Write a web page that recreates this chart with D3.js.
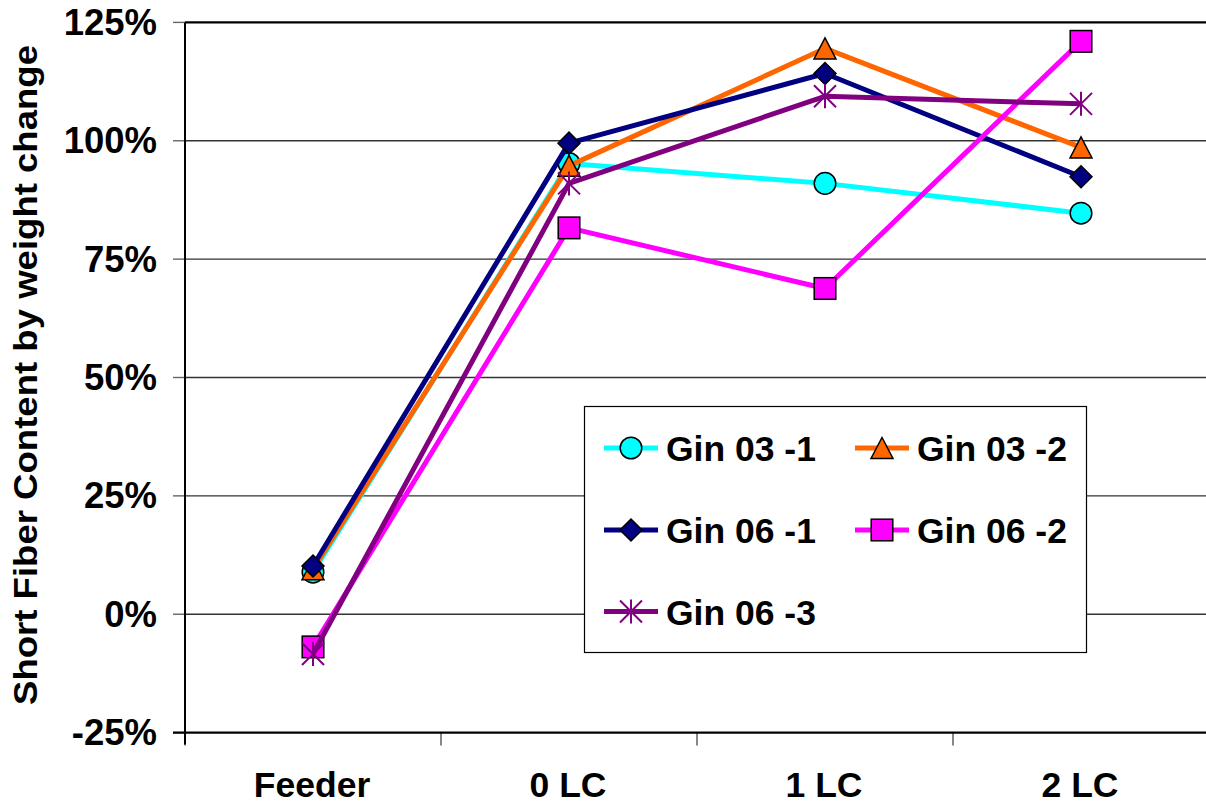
<!DOCTYPE html>
<html>
<head>
<meta charset="utf-8">
<script src="https://cdn.jsdelivr.net/npm/d3@7"></script>
<style>
  html, body { margin: 0; padding: 0; background: #fff; }
  svg { display: block; font-family: Arial, "Liberation Sans", sans-serif; font-weight: bold; }
</style>
</head>
<body>
<svg id="chart" width="1206" height="805"></svg>
<script>
const categories = ["Feeder", "0 LC", "1 LC", "2 LC"];
const seriesNames = ["Gin 03 -1", "Gin 03 -2", "Gin 06 -1", "Gin 06 -2", "Gin 06 -3"];
const gin03_1 = [8.9, 95.2, 91.0, 84.7];
const gin03_2 = [9.5, 94.7, 119.5, 98.6];
const gin06_1 = [10.2, 99.5, 114.2, 92.4];
const gin06_2 = [-6.9, 81.6, 68.8, 121.0];
const gin06_3 = [-8.4, 91.0, 109.4, 107.8];
const yTicks = [-25, 0, 25, 50, 75, 100, 125];
const yTitle = "Short Fiber Content by weight change";

const seriesValues = [gin03_1, gin03_2, gin06_1, gin06_2, gin06_3];
const colors = ["#00FFFF", "#FF6600", "#000080", "#FF00FF", "#800080"];
const shapes = ["circle", "triangle", "diamond", "square", "star"];

const svg = d3.select("#chart");
const x = d3.scaleBand().domain(categories).range([185, 1209]);
const y = d3.scaleLinear().domain([-25, 125]).range([732.6, 22.4]);

function drawMarker(g, shape, color) {
  if (shape === "circle") {
    g.append("circle").attr("r", 10.8).attr("fill", color).attr("stroke", "#000").attr("stroke-width", 1.5);
  } else if (shape === "triangle") {
    g.append("path").attr("d", "M0,-10.5L11,10.5L-11,10.5Z").attr("fill", color).attr("stroke", "#000").attr("stroke-width", 1.5);
  } else if (shape === "diamond") {
    g.append("path").attr("d", "M0,-11L11,0L0,11L-11,0Z").attr("fill", color).attr("stroke", "#000").attr("stroke-width", 1.5);
  } else if (shape === "square") {
    g.append("rect").attr("x", -10.8).attr("y", -10.8).attr("width", 21.6).attr("height", 21.6).attr("fill", color).attr("stroke", "#000").attr("stroke-width", 1.5);
  } else if (shape === "star") {
    g.append("path").attr("d", "M-11,-11L11,11M-11,11L11,-11M0,-12L0,12").attr("fill", "none").attr("stroke", color).attr("stroke-width", 2);
  }
}

// gridlines
svg.append("g").selectAll("line").data(yTicks.filter(t => t > -25)).join("line")
  .attr("x1", 185).attr("x2", 1206)
  .attr("y1", d => y(d)).attr("y2", d => y(d))
  .attr("stroke", d => d === 125 ? "#000" : "#333")
  .attr("stroke-width", d => d === 125 ? 2.2 : 1.4);

// y ticks
svg.append("g").selectAll("line").data(yTicks).join("line")
  .attr("x1", 173).attr("x2", 185)
  .attr("y1", d => y(d)).attr("y2", d => y(d))
  .attr("stroke", "#666").attr("stroke-width", 1.4);

// x ticks (band boundaries)
const boundaries = categories.map(c => x(c));
svg.append("g").selectAll("line").data(boundaries).join("line")
  .attr("x1", d => d).attr("x2", d => d)
  .attr("y1", y(-25)).attr("y2", y(-25) + 13)
  .attr("stroke", "#555").attr("stroke-width", 1.4);

// axes lines
svg.append("line").attr("x1", 185).attr("x2", 185).attr("y1", y(125)).attr("y2", y(-25) + 12)
  .attr("stroke", "#000").attr("stroke-width", 2);
svg.append("line").attr("x1", 173).attr("x2", 1206).attr("y1", y(-25)).attr("y2", y(-25))
  .attr("stroke", "#000").attr("stroke-width", 2.4);

// y tick labels
svg.append("g").selectAll("text").data(yTicks).join("text")
  .attr("x", 157).attr("y", d => y(d) + 12.5)
  .attr("text-anchor", "end").attr("font-size", 36.5)
  .text(d => d + "%");

// x labels
svg.append("g").selectAll("text").data(categories).join("text")
  .attr("x", d => x(d) + x.bandwidth() / 2 - 1).attr("y", 797)
  .attr("text-anchor", "middle").attr("font-size", 35.5)
  .text(d => d);

// y title
svg.append("text")
  .attr("transform", "translate(37,375) rotate(-90)")
  .attr("text-anchor", "middle").attr("font-size", 33)
  .attr("textLength", 660).attr("lengthAdjust", "spacingAndGlyphs")
  .text(yTitle);

// series
const line = d3.line().x((d, i) => x(categories[i]) + x.bandwidth() / 2).y(d => y(d));
seriesValues.forEach((vals, si) => {
  const g = svg.append("g");
  g.append("path").attr("d", line(vals)).attr("fill", "none")
    .attr("stroke", colors[si]).attr("stroke-width", 5).attr("stroke-linejoin", "round");
  vals.forEach((v, i) => {
    const mg = g.append("g").attr("transform", `translate(${x(categories[i]) + x.bandwidth() / 2},${y(v)})`);
    drawMarker(mg, shapes[si], colors[si]);
  });
});

// legend
const lg = svg.append("g");
lg.append("rect").attr("x", 584.5).attr("y", 406.5).attr("width", 502).attr("height", 246)
  .attr("fill", "#fff").attr("stroke", "#000").attr("stroke-width", 1.2);
const colX = [604, 855];
const rowY = [448, 530, 611.5];
seriesNames.forEach((name, si) => {
  const cx = colX[si % 2], cy = rowY[Math.floor(si / 2)];
  lg.append("line").attr("x1", cx).attr("x2", cx + 54).attr("y1", cy).attr("y2", cy)
    .attr("stroke", colors[si]).attr("stroke-width", 5);
  const mg = lg.append("g").attr("transform", `translate(${cx + 27},${cy})`);
  drawMarker(mg, shapes[si], colors[si]);
  lg.append("text").attr("x", cx + 62).attr("y", cy + 13).attr("font-size", 35.5).text(name);
});
</script>
</body>
</html>
